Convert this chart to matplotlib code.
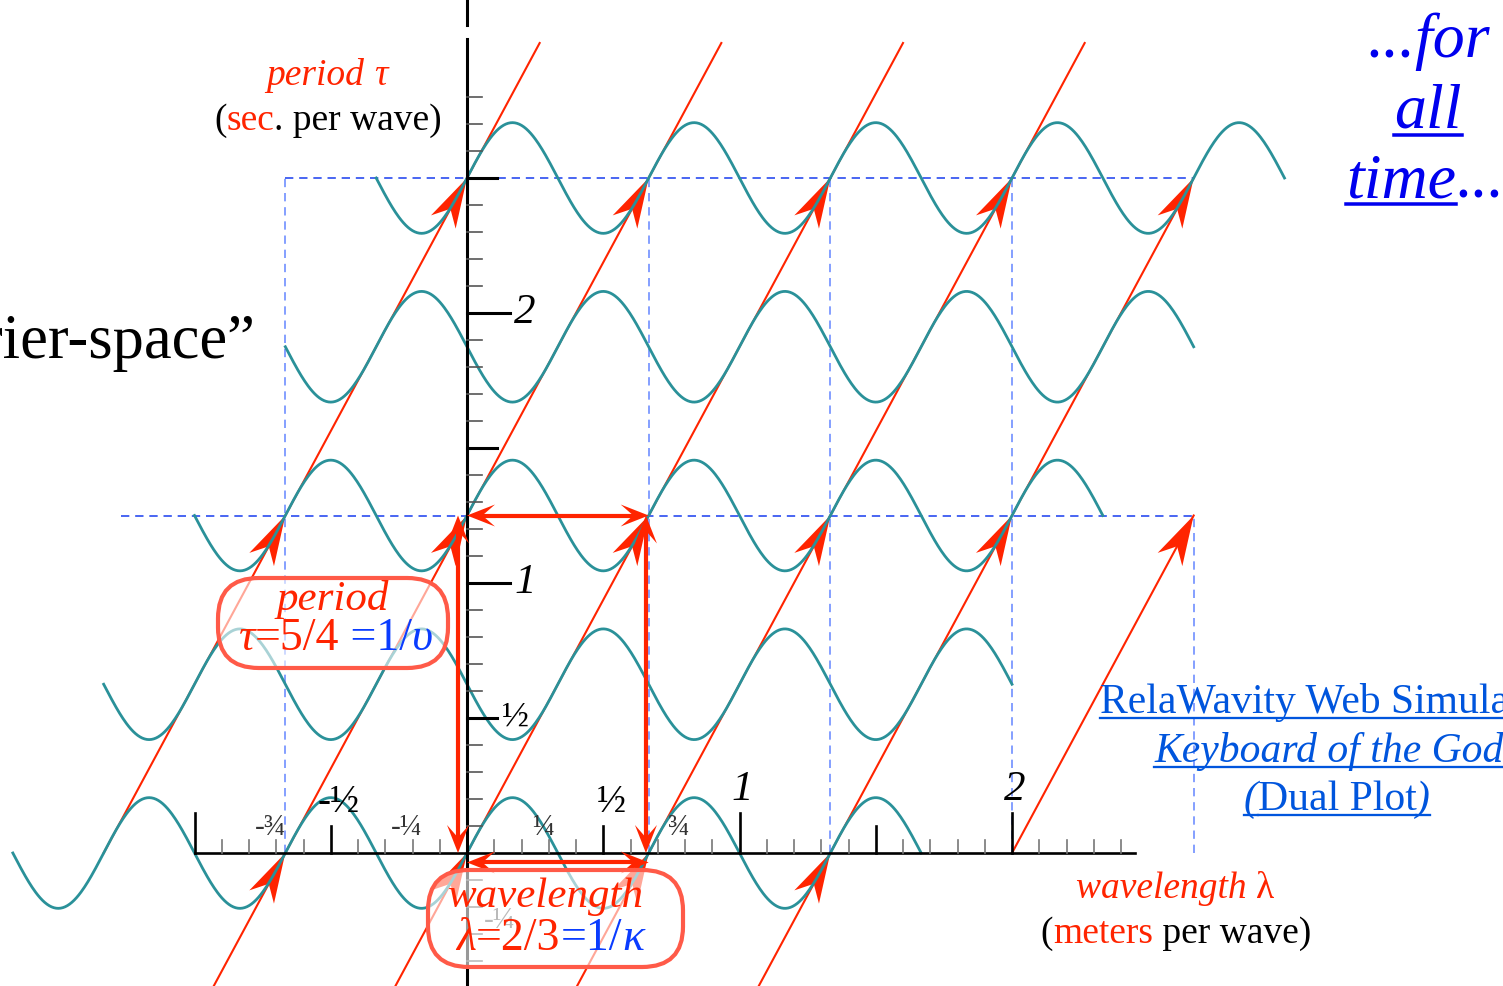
import numpy as np
import matplotlib.pyplot as plt
from matplotlib.patches import Polygon, FancyBboxPatch

plt.rcParams['font.family'] = ['Liberation Serif', 'DejaVu Serif']

# wave: wavelength, period, amplitude
lam = 2 / 3
tau = 5 / 4
amp = 0.205
row_t = [0, 0.625, 1.25, 1.875, 2.5]      # one row every half period
row_span = 2.5                             # half-width of each row, in wavelengths

# phase world-lines  x = n*lam + (lam/tau)*t
wl_n = [-2, -1, 0, 1, 2, 3]
wl_t0 = [0, -0.5, -0.5, -0.5, -0.5, 0]
wl_t1 = [3.0, 3.0, 3.0, 3.0, 2.5, 1.25]
wl_heads = [[1.25, 2.5], [0, 1.25, 2.5], [0, 1.25, 2.5], [0, 1.25, 2.5], [0, 1.25, 2.5], [1.25]]

# dashed guide lines
vd_x = [-2 / 3, 0, 2 / 3, 4 / 3, 2, 8 / 3]
vd_top = [2.5, 2.5, 2.5, 2.5, 2.5, 1.25]
hd_t = [2.5, 1.25]
hd_x0 = [-2 / 3, -1.27]
hd_x1 = [8 / 3, 8 / 3]

# tick labels
xlab_v = [-0.75, -0.5, -0.25, 0.25, 0.5, 0.75, 1, 2]
xlab_s = ['-¾', '-½', '-¼', '¼', '½', '¾', '1', '2']
ylab_v = [2, 1, 0.5, -0.25]
ylab_s = ['2', '1', '½', '-¼']

RED = '#ff2400'
TEAL = '#2a9199'
BLUE = '#0a3cff'
SX, SY = 272.5, 270.0      # pixels per unit
OX, OY = 467, 853          # origin in pixels

fig = plt.figure(figsize=(15.03, 9.86), dpi=100)
ax = fig.add_axes([0, 0, 1, 1])
ax.set_xlim(-OX / SX, (1503 - OX) / SX)
ax.set_ylim((OY - 986) / SY, OY / SY)
ax.axis('off')
rend = fig.canvas.get_renderer()


def px(xp, yp):
    return (xp - OX) / SX, (OY - yp) / SY


def head(x, y, dx, dy, L=50, W=14, notch=0.7, z=3):
    ux, uy = dx * SX, dy * SY
    n = np.hypot(ux, uy)
    ux, uy = ux / n, uy / n
    qx, qy = -uy, ux
    pts = [(0, 0), (-L * ux + W * qx, -L * uy + W * qy), (-notch * L * ux, -notch * L * uy),
           (-L * ux - W * qx, -L * uy - W * qy)]
    ax.add_patch(Polygon([(x + a / SX, y + b / SY) for a, b in pts], closed=True,
                         fc=RED, ec='none', zorder=z))


def rich(xp, yp, parts, size, ha='center', ul=(), z=9):
    arts = []
    for s, c, st in parts:
        arts.append(ax.text(0, 0, s, fontsize=size, color=c, fontstyle=st,
                            ha='left', va='baseline', zorder=z))
    ws = [t.get_window_extent(rend).width for t in arts]
    left = xp - {'center': sum(ws) / 2, 'left': 0, 'right': sum(ws)}[ha]
    for i, (t, w) in enumerate(zip(arts, ws)):
        t.set_position(px(left, yp))
        if i in ul:
            x0, y0 = px(left, yp + size * 0.16)
            x1, _ = px(left + w, yp)
            ax.plot([x0, x1], [y0, y0], color=parts[i][1], lw=size * 0.055, zorder=z)
        left += w


# dashed guides
for x, top in zip(vd_x, vd_top):
    ax.plot([x, x], [0, top], color='#6f8fff', lw=1.2, dashes=(5, 3.5), zorder=1)
for t, a, b in zip(hd_t, hd_x0, hd_x1):
    ax.plot([a, b], [t, t], color='#2a4cf0', lw=1.2, dashes=(5, 3.5), zorder=1)

# world lines with arrowheads
v = lam / tau
for n, t0, t1, hs in zip(wl_n, wl_t0, wl_t1, wl_heads):
    ax.plot([n * lam + v * t0, n * lam + v * t1], [t0, t1], color=RED, lw=1.5, zorder=2)
    for th in hs:
        head(n * lam + v * th, th, v, 1)

# wave rows
for t in row_t:
    s = v * t
    x = np.linspace(s - row_span * lam, s + row_span * lam, 800)
    ax.plot(x, t + amp * np.sin(2 * np.pi * (x - s) / lam), color=TEAL, lw=2.0, zorder=4)

# axes
ax.plot([-1, 2.45], [0, 0], color='k', lw=1.9, zorder=5)
ax.plot([0, 0], [(OY - 986) / SY, 3.015], color='k', lw=2.2, zorder=5)
ax.plot([0, 0], [3.067, OY / SY], color='k', lw=2.2, zorder=5)
for k in range(-10, 25):
    x = k / 10
    if k == 0:
        continue
    if k % 10 == 0:
        L, c, w = 40, 'k', 1.9
    elif k % 5 == 0:
        L, c, w = 27, 'k', 1.9
    else:
        L, c, w = 13, '#777777', 1.2
    ax.plot([x, x], [0, L / SY], color=c, lw=w, zorder=5)
for k in range(-4, 29):
    t = k / 10
    if k == 0:
        continue
    if k % 10 == 0:
        L, c, w = 43, 'k', 2.2
    elif k % 5 == 0:
        L, c, w = 30, 'k', 2.2
    else:
        L, c, w = 15, '#555555', 1.2
    ax.plot([0, L / SX], [t, t], color=c, lw=w, zorder=5)

# tick labels
for val, s in zip(xlab_v, xlab_s):
    if s in ('1', '2'):
        ax.text(val + 0.01, 0.196, s, fontsize=31, fontstyle='italic', ha='center', va='baseline', zorder=6)
    elif s in ('½', '-½'):
        ax.text(val + 0.028, 0.152, s, fontsize=28, ha='center', va='baseline', zorder=6)
    else:
        ax.text(val + 0.028, 0.067, s, fontsize=21, color='#333333', ha='center', va='baseline', zorder=6)
for val, s in zip(ylab_v, ylab_s):
    if s in ('1', '2'):
        ax.text(0.213, val, s, fontsize=31, fontstyle='italic', ha='center', va='center', zorder=6)
    elif s == '½':
        ax.text(0.176, val, s, fontsize=26, ha='center', va='center', zorder=6)
    else:
        ax.text(0.12, val, s, fontsize=21, color='#555555', ha='center', va='center', zorder=6)

# period / wavelength double arrows
for x0, y0, x1, y1 in [(-0.033, 0, -0.033, tau), (lam - 0.01, 0, lam - 0.01, tau),
                       (0, tau, lam, tau), (0, -0.035, lam, -0.035)]:
    dx, dy = x1 - x0, y1 - y0
    d = np.hypot(dx * SX, dy * SY)
    ex, ey = dx / d * 14, dy / d * 14
    ax.plot([x0 + ex, x1 - ex], [y0 + ey, y1 - ey], color=RED, lw=3, solid_capstyle='butt', zorder=6)
    head(x1, y1, dx, dy, L=28, W=11, notch=0.55, z=6)
    head(x0, y0, -dx, -dy, L=28, W=11, notch=0.55, z=6)

# rounded labels
for (xa, ya, xb, yb) in [(218, 578, 448, 668), (428, 870, 683, 967)]:
    x0, y1 = px(xa, ya)
    x1, y0 = px(xb, yb)
    ax.add_patch(FancyBboxPatch((x0, y0), x1 - x0, y1 - y0,
                                boxstyle='round,pad=0,rounding_size=0.15',
                                fc=(1, 1, 1, 0.6), ec='#ff5a48', lw=3, zorder=7))
rich(333, 610, [('period', RED, 'italic')], 31)
rich(336, 650, [('τ', RED, 'italic'), ('=5/4', RED, 'normal'), (' =1/', BLUE, 'normal'),
                ('υ', BLUE, 'italic')], 33)
rich(546, 907, [('wavelength', RED, 'italic')], 31)
rich(550, 950, [('λ', RED, 'italic'), ('=2/3', RED, 'normal'), ('=1/', BLUE, 'normal'),
                ('κ', BLUE, 'italic')], 33)

# axis titles
rich(327, 85, [('period ', RED, 'italic'), ('τ', RED, 'italic')], 27)
rich(328, 130, [('(', 'k', 'normal'), ('sec', RED, 'normal'), ('. per wave)', 'k', 'normal')], 27)
rich(1175, 898, [('wavelength ', RED, 'italic'), ('λ', RED, 'normal')], 27)
rich(1176, 943, [('(', 'k', 'normal'), ('meters', RED, 'normal'), (' per wave)', 'k', 'normal')], 27)

rich(255, 358, [('“Fourier-space”', 'k', 'normal')], 45, ha='right')

# top-right note
rich(1429, 57, [('...for', '#0000ee', 'italic')], 46)
rich(1428, 128, [('all', '#0000ee', 'italic')], 46, ul=(0,))
rich(1425, 197, [('time', '#0000ee', 'italic'), ('...', '#0000ee', 'italic')], 46, ul=(0,))

# link text
LINK = '#0055dd'
rich(1337, 713, [('RelaWavity Web Simulation', LINK, 'normal')], 30, ul=(0,))
rich(1337, 762, [('Keyboard of the Gods', LINK, 'italic')], 30, ul=(0,))
rich(1337, 810, [('(', LINK, 'italic'), ('Dual Plot', LINK, 'normal'), (')', LINK, 'italic')], 30, ul=(0, 1, 2))

fig.savefig('out.png', dpi=100)
